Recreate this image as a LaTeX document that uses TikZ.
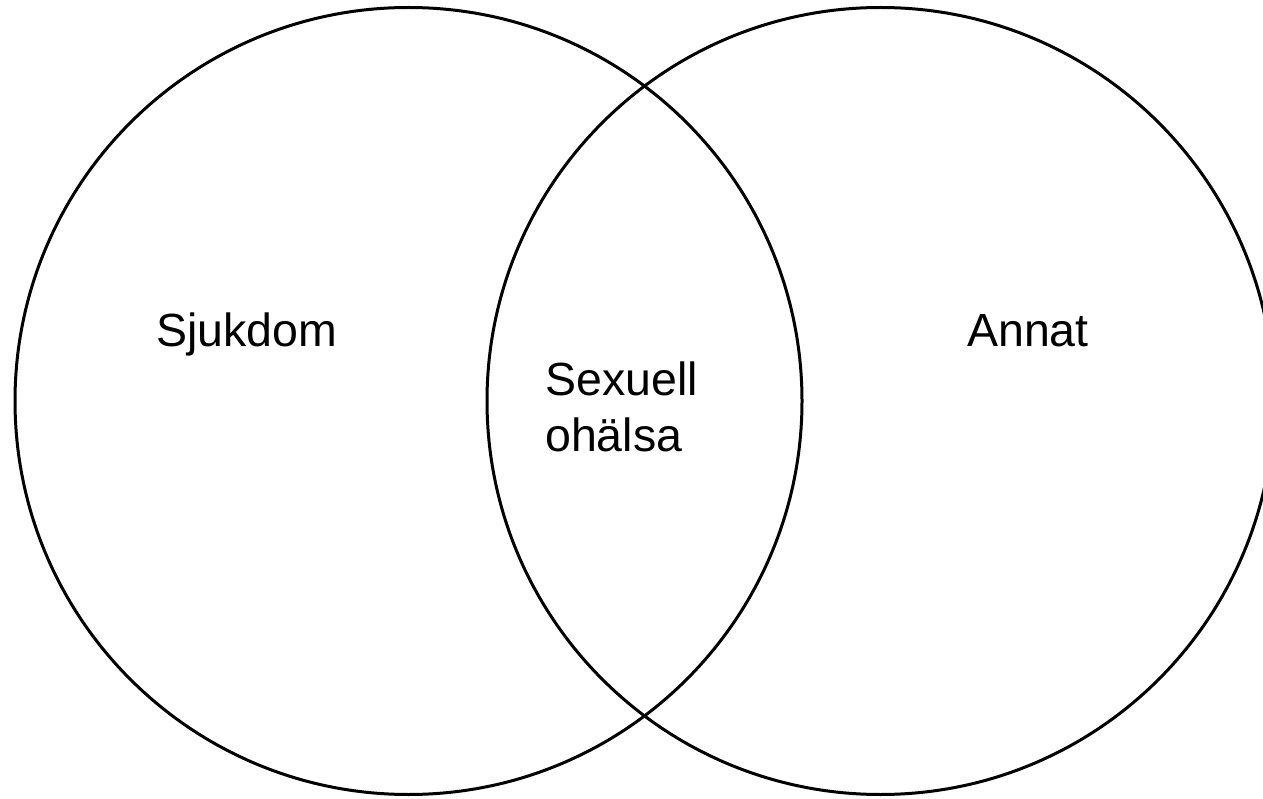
\documentclass[tikz,border=0pt]{standalone}
\usepackage{fontspec}
\setmainfont{Liberation Sans}
\begin{document}
\begin{tikzpicture}[x=1pt,y=-1pt,
  venn/.style={draw=black,line width=3pt},
  lbl/.style={inner sep=0pt,font=\fontsize{46.5}{56}\selectfont,anchor=base west}]
\path[use as bounding box] (0,0) rectangle (1263,799);
\begin{scope}
\clip (0,0) rectangle (1263,799);
\draw[venn] (408.5,401) circle[radius=393.5];
\draw[venn] (880.5,401) circle[radius=393.5];
\end{scope}
\node[lbl] (sjukdom) at (156,347) {Sjukdom};
\node[lbl] (annat) at (967,347) {Annat};
\node[lbl,align=left,anchor=north west] (sexuell) at (545,362) {Sexuell\\oh\"alsa};
\end{tikzpicture}
\end{document}
